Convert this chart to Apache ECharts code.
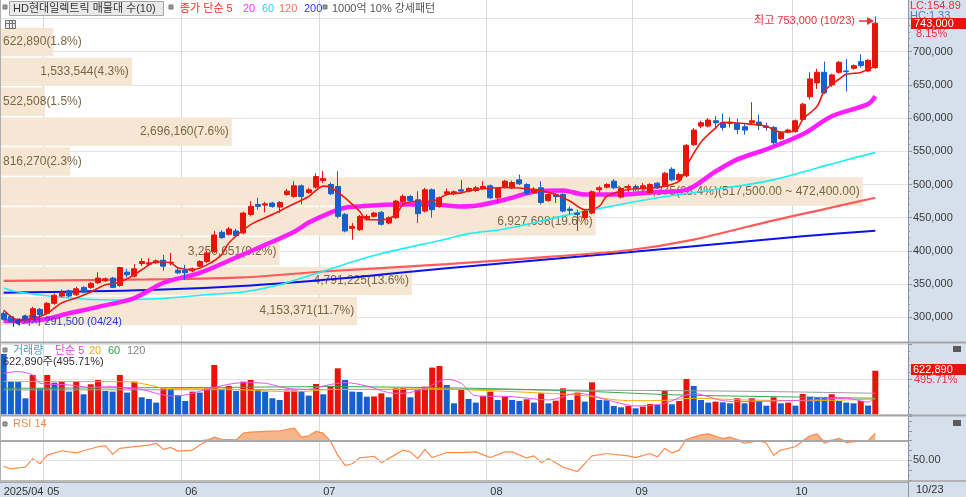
<!DOCTYPE html>
<html>
<head>
<meta charset="utf-8">
<script src="https://cdn.jsdelivr.net/npm/echarts@6/dist/echarts.min.js"></script>
<style>
html,body{margin:0;padding:0;background:#fff;}
#main{width:966px;height:497px;}
</style>
</head>
<body>
<div id="main"></div>
<script>
// 기간: 2025/04/23 ~ 10/23 (일봉)
var year = '2025';
var dates = ['04/23','04/24','04/25','04/28','04/29','04/30',
  '05/02','05/07','05/08','05/09','05/12','05/13','05/14','05/15','05/16','05/19','05/20','05/21','05/22','05/23','05/26','05/27','05/28','05/29','05/30',
  '06/02','06/04','06/05','06/09','06/10','06/11','06/12','06/13','06/16','06/17','06/18','06/19','06/20','06/23','06/24','06/25','06/26','06/27','06/30',
  '07/01','07/02','07/03','07/04','07/07','07/08','07/09','07/10','07/11','07/14','07/15','07/16','07/17','07/18','07/21','07/22','07/23','07/24','07/25','07/28','07/29','07/30','07/31',
  '08/01','08/04','08/05','08/06','08/07','08/08','08/11','08/12','08/13','08/14','08/18','08/19','08/20','08/21','08/22','08/25','08/26','08/27','08/28','08/29',
  '09/01','09/02','09/03','09/04','09/05','09/08','09/09','09/10','09/11','09/12','09/15','09/16','09/17','09/18','09/19','09/22','09/23','09/24','09/25','09/26','09/29','09/30',
  '10/01','10/02','10/10','10/13','10/14','10/15','10/16','10/17','10/20','10/21','10/22','10/23'];
var padCount = 4; // 오른쪽 여백 칸

// 가격 (천원)
var unit = 1000;
var opens = [306,301,293,302,297,312,306,321,332,340,334,345,345,352,355,359,348,368,362,381,380,382,386,382,371,
  371,370,377,384,399,428,425,430,427,455,470,469,472,466,485,482,498,488,496,
  506,500,497,455,434,432,449,452,458,442,450,474,482,477,460,492,467,486,486,492,490,491,494,
  498,480,496,495,507,500,488,495,476,485,485,463,457,450,457,492,496,505,481,495,
  497,494,488,502,498,523,507,513,560,588,588,596,593,592,592,587,593,594,588,586,569,579,
  580,598,632,653,669,650,669,671,675,685,671,676];
var closes = [297,294,296,296,313,304,321,333,337,332,343,338,351,359,358,345,375,364,373,384,382,385,377,383,367,
  367,373,384,397,424,420,433,423,457,467,467,471,467,473,490,498,482,492,512,
  509,486,452,430,437,452,452,457,440,450,475,482,476,456,492,462,480,489,489,490,494,495,497,
  480,494,505,503,501,486,493,473,485,482,460,461,455,460,489,495,500,495,494,497,
  494,498,500,495,517,507,515,559,582,593,597,593,586,594,583,582,596,589,586,563,578,582,
  596,621,659,669,638,665,684,670,679,679,687,743];
var lows = [295,291.5,292,294,296,301,304,319,330,330,332,336,343,350,353,344,346,360,360,377,377,381,370,378,365,
  356,368,376,382,397,418,423,421,425,452,462,458,465,457,483,480,470,486,494,
  502,484,449,428,417,430,446,450,438,440,448,472,474,442,458,450,465,483,484,487,488,489,492,
  478,472,494,493,499,484,486,470,474,472,458,455,430,447,455,488,494,493,479,490,
  490,492,486,493,496,505,505,511,558,585,586,583,581,586,576,575,591,582,581,560,567,577,
  578,596,628,644,636,647,667,640,673,676,669,674];
var highs = [309,303,298,304,316,314,323,336,342,342,346,347,353,368,360,361,376,373,380,389,389,387,394,397,374,
  379,375,386,400,430,431,436,433,459,475,480,474,474,475,493,505,500,495,517,
  520,503,520,457,442,454,455,459,460,452,477,485,484,490,495,494,482,494,491,507,496,498,505,
  500,496,507,506,515,502,496,505,487,487,487,467,462,462,491,498,502,508,496,500,
  500,502,502,504,519,526,518,561,585,596,600,603,607,601,599,592,624,605,593,588,580,584,
  598,623,669,674,685,667,686,689,681,696,689,753];

// 거래량 (주)
var volumes = [862000,467000,460000,229000,562000,371000,562000,452000,467000,324000,467000,286000,429000,490000,333000,324000,562000,310000,467000,243000,219000,167000,371000,360000,276000,
  190000,324000,310000,371000,705000,357000,405000,333000,467000,490000,357000,324000,229000,205000,338000,340000,333000,267000,433000,
  286000,405000,657000,490000,324000,320000,252000,255000,300000,243000,371000,375000,243000,357000,395000,667000,690000,419000,157000,348000,219000,167000,262000,
  324000,205000,252000,205000,190000,214000,167000,300000,157000,195000,371000,205000,310000,181000,457000,205000,200000,119000,100000,119000,
  86000,110000,148000,133000,333000,143000,190000,505000,405000,205000,167000,181000,171000,157000,229000,157000,229000,190000,124000,243000,157000,167000,
  124000,290000,252000,238000,235000,286000,190000,167000,157000,190000,125656,622890];

// 가격 이동평균 (그림에서 읽은 값: [봉 번호, 천원])
var ma5 = [[0,311],[2,296],[4,297.5],[6,306],[8,321.7],[10,329],[12,338],[14,349],[16,353],[18,364],[19,371.6],[21,383.7],[23,382],[24,374.6],[26,371.6],[28,379],[30,394],[31,412],[34,439.6],[37,454.7],[39,465.7],[42,482],[44,497.5],[45,495.5],[47,480],[49,459.7],[50,447],[52,447],[54,454.7],[55,470],[57,474.8],[59,474.8],[61,485],[63,487.4],[65,492.4],[69,495.5],[73,492.4],[76,485],[78,474.8],[80,462],[82,467],[83,482],[86,492.4],[90,495.5],[93,505],[94,527.7],[96,563.5],[98,585],[99,593.7],[103,590.7],[105,587.6],[107,579],[109,580.5],[110,598],[112,618],[113,641],[115,658.7],[116,666],[118,668.8],[119,673.8],[120,678]];
var ma20 = [[0,294.5],[5,296],[9,306],[13,315.7],[18,329],[22,352],[27,367],[32,390],[36,409],[40,429],[42,442.6],[45,457.7],[47,465],[49,467],[54,470],[59,470],[63,467],[65,468],[69,477],[73,489],[77,491],[80,485],[85,485],[89,488],[94,492],[98,519.6],[101,537.8],[105,553],[110,575.6],[114,602.7],[119,621],[120,633]];
var ma60 = [[0,344],[2,338],[9,329],[15,326],[20,327.5],[25,331],[29,335],[33,338],[38,349],[43,366],[47,380],[52,396],[61,418],[64,426],[69,433],[78,455],[84,468],[90,480],[97,491],[106,507],[112,525],[116,537],[120,548]];
var ma120 = [[0,355],[20,357],[33,360],[44,369],[61,380],[75,391],[86,401],[95,417],[106,446],[113,463],[120,480]];
var ma200 = [[0,337],[20,341],[34,348],[48,360],[61,374],[86,398],[110,422],[120,430.5]];

// 거래량 이동평균 ([봉 번호, 천주])
var volMa5 = [[0,586],[2,610],[4,562],[5,443],[9,419],[12,386],[15,395],[17,371],[19,357],[21,300],[23,262],[25,276],[28,357],[31,429],[33,452],[36,443],[39,371],[42,357],[44,405],[47,452],[50,405],[53,310],[55,300],[58,371],[61,500],[63,443],[65,265],[70,252],[75,205],[79,300],[84,181],[87,119],[91,157],[95,300],[97,252],[99,195],[102,181],[106,190],[111,205],[116,229],[119,175],[120,250]];
var volMa20 = [[0,470],[17,465],[20,420],[22,375],[31,360],[36,333],[41,324],[45,357],[50,357],[59,365],[65,345],[70,324],[79,276],[86,195],[90,195],[95,229],[102,205],[111,195],[120,219]];
var volMa60 = [[0,371],[30,385],[45,395],[65,371],[79,333],[93,276],[106,252],[120,229]];
var volMa120 = [[0,348],[40,352],[65,357],[75,348],[93,338],[106,324],[120,300]];

// RSI 14 ([봉 번호, 값])
var rsi14 = [[0,43.8],[1,41.4],[3,43],[4,51.7],[5,46.5],[6,55.2],[8,59.7],[10,57.6],[11,59.7],[13,63.8],[14,64.9],[15,56.2],[16,62.1],[18,63.8],[20,65.5],[21,67.3],[22,61.1],[23,63.1],[24,59.3],[26,60.4],[27,65.5],[29,73.5],[30,71.4],[32,70.7],[33,77.6],[34,78.7],[36,79.4],[38,80],[40,82.8],[41,73.5],[42,74.9],[43,79.4],[44,77.6],[45,69],[46,55.2],[47,44.8],[48,46.5],[49,52.4],[51,54.1],[52,47.6],[53,51.7],[55,60.4],[56,58.6],[57,51.7],[58,61.1],[59,52.8],[61,57.9],[63,57.9],[65,58.6],[67,52.8],[69,58.6],[70,58.6],[72,52.4],[73,54.5],[74,47.6],[75,51.7],[77,43.1],[79,38.6],[81,54.5],[83,56.9],[86,54.5],[87,52.8],[89,56.9],[90,53.5],[91,62.1],[92,57.6],[93,60.4],[94,71.4],[96,75.9],[97,76.9],[99,72.1],[100,73.5],[102,67.3],[104,70],[105,67.3],[106,55.2],[107,60.4],[109,63.8],[110,69.7],[111,74.9],[112,76.9],[113,67.3],[115,72.4],[116,68],[118,69.7],[119,70],[120,77.6]];
var rsiHigh = 70, rsiMid = 50;

// 매물대 (아래 구간부터)
var profileVol = [4153371, 4791225, 3250651, 6927698, 10033375, 816270, 2696160, 522508, 1533544, 622890];
var profilePct = [11.7, 13.6, 9.2, 19.6, 28.4, 2.3, 7.6, 1.5, 4.3, 1.8];
var topBinRange = [517500, 472400];

var FONT = "'Liberation Sans', 'Noto Sans CJK KR', sans-serif";
var RED = '#e8140c', BLUE = '#1560cc';
var PLOT_W = 908;
var PROF_MAX = 10560000;

var cats = dates.slice();
for (var k = 1; k <= padCount; k++) cats.push('_' + k);

function isMonthStart(idx) {
  if (idx >= dates.length) return false;
  return idx === 0 || dates[idx].slice(0, 2) !== dates[idx - 1].slice(0, 2);
}
function fmt(n) { return n.toLocaleString('en-US'); }
function scalePairs(arr, f) { return arr.map(function (p) { return [p[0], p[1] * f]; }); }

var candleData = dates.map(function (d, i) {
  return [opens[i] * unit, closes[i] * unit, lows[i] * unit, highs[i] * unit];
});
var volData = volumes.map(function (v, i) {
  var up = i > 0 && v > volumes[i - 1];
  return { value: v, itemStyle: { color: up ? RED : BLUE } };
});

var topBin = profileVol.indexOf(Math.max.apply(null, profileVol));
var profLabels = profileVol.map(function (v, i) {
  var s = fmt(v) + '(' + profilePct[i].toFixed(1) + '%)';
  if (i === topBin) {
    s += '(' + topBinRange[0].toLocaleString('en-US', { minimumFractionDigits: 2 }) + ' ~ ' +
      topBinRange[1].toLocaleString('en-US', { minimumFractionDigits: 2 }) + ')';
  }
  return s;
});
var profData = profileVol.map(function (v, i) {
  var barPx = v / PROF_MAX * PLOT_W;
  var narrow = barPx < profLabels[i].length * 6.3 + 6;
  return { value: v, label: { position: narrow ? 'insideLeft' : 'insideRight' } };
});

// 최고/최저
var hiVal = Math.max.apply(null, highs), hiIdx = highs.indexOf(hiVal);
var loVal = Math.min.apply(null, lows), loIdx = lows.indexOf(loVal);
var lastIdx = closes.length - 1;
var lastClose = closes[lastIdx] * unit;
var chg = (closes[lastIdx] / closes[lastIdx - 1] - 1) * 100;
var lastVol = volumes[lastIdx];
var volRatio = lastVol / volumes[lastIdx - 1] * 100;

function T(x, y, text, color, size, align, z) {
  return { type: 'text', x: x, y: y, z: z || 110, silent: true,
    style: { text: text, fill: color, font: (size || 11) + 'px ' + FONT, align: align || 'left', verticalAlign: 'middle' } };
}
function R(x, y, w, h, fill, stroke, z) {
  return { type: 'rect', shape: { x: x, y: y, width: w, height: h }, z: z == null ? 100 : z, silent: true,
    style: { fill: fill, stroke: stroke || null, lineWidth: 1 } };
}
function L(x1, y1, x2, y2, color, w, z) {
  return { type: 'line', shape: { x1: x1, y1: y1, x2: x2, y2: y2 }, z: z == null ? 90 : z, silent: true,
    style: { stroke: color, lineWidth: w || 1 } };
}

var AX = '#8796aa';
function rightAxis(extra) {
  var base = {
    type: 'value', position: 'right',
    axisLine: { show: true, lineStyle: { color: AX } },
    axisTick: { show: true, length: 4, lineStyle: { color: AX } },
    minorTick: { show: true, splitNumber: 5, length: 2, lineStyle: { color: AX } },
    axisLabel: { color: '#3a3a3a', fontSize: 11, fontFamily: FONT, margin: 5 },
    splitLine: { show: true, lineStyle: { color: '#e3e3e3' } }
  };
  for (var key in extra) base[key] = extra[key];
  return base;
}
function maLine(data, color, width, xi, yi, z) {
  return { type: 'line', xAxisIndex: xi, yAxisIndex: yi, data: data, showSymbol: false, smooth: 0.3,
    clip: false, z: z || 3, silent: true, lineStyle: { color: color, width: width }, itemStyle: { color: color } };
}

var myChart = echarts.init(document.getElementById('main'));
var option = {
  animation: false,
  backgroundColor: '#ffffff',
  grid: [
    { left: 0, top: 0, width: PLOT_W, height: 482, outerBoundsMode: 'none', containLabel: false },
    { left: 0, top: 18.5, width: PLOT_W, height: 298.8, outerBoundsMode: 'none', containLabel: false },
    { left: 0, top: 27, width: PLOT_W, height: 299, outerBoundsMode: 'none', containLabel: false },
    { left: 0, top: 344.3, width: PLOT_W, height: 70, outerBoundsMode: 'none', containLabel: false },
    { left: 0, top: 416, width: PLOT_W, height: 64, outerBoundsMode: 'none', containLabel: false }
  ],
  xAxis: [
    { gridIndex: 0, type: 'category', data: cats, boundaryGap: true,
      axisLine: { show: true, lineStyle: { color: '#a5a5a5' } },
      axisTick: { show: false },
      axisLabel: { show: true, interval: function (idx) { return isMonthStart(idx); },
        formatter: function (val, idx) { return idx === 0 ? year + '/' + val.slice(0, 2) : val.slice(0, 2); },
        align: 'left', margin: 4, color: '#333', fontSize: 11, fontFamily: FONT, hideOverlap: false },
      splitLine: { show: true, interval: function (idx) { return isMonthStart(idx); }, lineStyle: { color: '#d9d9d9' } } },
    { gridIndex: 1, type: 'category', data: cats, boundaryGap: true, show: false },
    { gridIndex: 2, type: 'value', min: 0, max: PROF_MAX, show: false },
    { gridIndex: 3, type: 'category', data: cats, boundaryGap: true, show: false },
    { gridIndex: 4, type: 'category', data: cats, boundaryGap: true, show: false }
  ],
  yAxis: [
    { gridIndex: 0, type: 'value', show: false },
    rightAxis({ gridIndex: 1, min: 300000, max: 750000, interval: 50000,
      axisLabel: { color: '#3a3a3a', fontSize: 11, fontFamily: FONT, margin: 5,
        formatter: function (v) { return v >= 750000 ? '' : fmt(v); } } }),
    { gridIndex: 2, type: 'category', data: profileVol.map(function (v, i) { return 'b' + i; }), show: false },
    rightAxis({ gridIndex: 3, min: 0, max: 1000000, interval: 500000, axisLabel: { show: false } }),
    rightAxis({ gridIndex: 4, min: 30, max: 95, interval: 10,
      minorTick: { show: true, splitNumber: 2, length: 2, lineStyle: { color: AX } },
      splitLine: { show: false },
      axisLabel: { color: '#3a3a3a', fontSize: 11, fontFamily: FONT, margin: 5,
        formatter: function (v) { return v === rsiMid ? rsiMid.toFixed(2) : ''; } } })
  ],
  series: [
    { type: 'bar', xAxisIndex: 2, yAxisIndex: 2, data: profData, barCategoryGap: '5%', z: 1, silent: true,
      itemStyle: { color: '#f6e7d5' },
      label: { show: true, distance: 3, color: '#7c6543', fontSize: 12, fontFamily: FONT,
        formatter: function (p) { return profLabels[p.dataIndex]; } } },
    maLine(scalePairs(ma200, unit), '#0a14e6', 2, 1, 1),
    maLine(scalePairs(ma120, unit), '#ff5b5b', 2.2, 1, 1),
    maLine(scalePairs(ma60, unit), '#19f0f5', 1.6, 1, 1),
    maLine(scalePairs(ma20, unit), '#ff1eff', 4.5, 1, 1),
    maLine(scalePairs(ma5, unit), '#ee1a10', 1.6, 1, 1, 6),
    { type: 'candlestick', xAxisIndex: 1, yAxisIndex: 1, data: candleData, barWidth: 5.5, clip: false, z: 5, silent: true,
      itemStyle: { color: RED, color0: BLUE, borderColor: RED, borderColor0: BLUE, borderWidth: 1 } },
    { type: 'bar', xAxisIndex: 3, yAxisIndex: 3, data: volData, barWidth: 6, z: 3, silent: true },
    maLine(scalePairs(volMa120, 1000), '#9a9a9a', 1, 3, 3, 4),
    maLine(scalePairs(volMa60, 1000), '#35a84f', 1, 3, 3, 4),
    maLine(scalePairs(volMa20, 1000), '#f2b000', 1, 3, 3, 4),
    maLine(scalePairs(volMa5, 1000), '#f050e8', 1, 3, 3, 4),
    { type: 'line', xAxisIndex: 4, yAxisIndex: 4, showSymbol: false, silent: true, z: 2,
      data: rsi14.map(function (p) { return [p[0], Math.max(p[1], rsiHigh)]; }),
      lineStyle: { width: 0, opacity: 0 },
      areaStyle: { origin: rsiHigh, color: '#f5b68a', opacity: 1 } },
    { type: 'line', xAxisIndex: 4, yAxisIndex: 4, data: rsi14, showSymbol: false, silent: true, z: 3,
      lineStyle: { color: '#ff8a4c', width: 1.2 }, itemStyle: { color: '#ff8a4c' },
      markLine: { silent: true, symbol: ['none', 'none'], label: { show: false },
        data: [
          { yAxis: rsiHigh, lineStyle: { color: '#a9a9a9', width: 2, type: 'solid' } },
          { yAxis: rsiMid, lineStyle: { color: '#dedede', width: 1, type: 'solid' } }
        ] } }
  ],
  graphic: { elements: [
    // 배경
    R(PLOT_W, 0, 966 - PLOT_W, 497, '#d6e0ec', null, -10),
    R(0, 482, PLOT_W, 15, '#d6e0ec', null, -10),
    // 구분선
    L(PLOT_W + 0.5, 0, PLOT_W + 0.5, 497, AX, 1),
    L(0, 342.5, 966, 342.5, '#a5a5a5', 2),
    L(0, 415.5, 966, 415.5, '#a5a5a5', 2),
    L(0, 481, 966, 481, '#a5a5a5', 1.5),
    L(0.5, 0, 0.5, 482, '#b0b0b0', 1),
    // 상단 범례
    R(3, 5, 4, 4, '#9a9a9a', '#777'),
    R(9.5, 1.5, 154, 14, '#e9e9e9', '#a6a6a6'),
    T(13, 9, 'HD현대일렉트릭 매물대 수(10)', '#333'),
    R(169, 5, 4, 4, '#9a9a9a', '#777'),
    T(180, 9, '종가 단순 5', '#ff2b2b'),
    T(243, 9, '20', '#ff33ff'),
    T(262, 9, '60', '#2ed3ea'),
    T(279, 9, '120', '#ff6b6b'),
    T(304, 9, '200', '#3434ff'),
    R(323, 5, 4, 4, '#9a9a9a', '#777'),
    T(332, 9, '1000억 10% 강세패턴', '#555'),
    R(5.5, 20.5, 10, 8, '#eeeeee', '#6f6f6f'),
    L(5.5, 23.5, 15.5, 23.5, '#6f6f6f', 1, 105),
    L(9.5, 20.5, 9.5, 28.5, '#6f6f6f', 1, 105),
    L(12.5, 20.5, 12.5, 28.5, '#6f6f6f', 1, 105),
    // 최고/최저 표시
    T(855, 21, '최고 ' + fmt(hiVal * unit) + ' (' + dates[hiIdx] + ')', '#e8303a', 11, 'right'),
    L(859, 21, 868, 21, '#e8303a', 1.5),
    { type: 'polygon', z: 100, silent: true, shape: { points: [[874, 21], [867, 17], [867, 25]] }, style: { fill: '#e8303a' } },
    { type: 'polygon', z: 100, silent: true, shape: { points: [[14, 322], [20, 318], [20, 326]] }, style: { fill: '#1f3fd0' } },
    L(13.5, 317, 13.5, 327, '#1f3fd0', 1),
    T(21, 322, '최저 ' + fmt(loVal * unit) + ' (' + dates[loIdx] + ')', '#1f3fd0'),
    // 오른쪽 축 정보
    T(910, 6, 'LC:154.89', '#e8303a', 11, 'left', 95),
    T(910, 16, 'HC:1.33', '#4a78d0', 11, 'left', 95),
    R(911, 18, 55, 11, RED, null, 101),
    T(914, 23.5, fmt(lastClose), '#ffffff', 11, 'left', 120),
    T(916, 34, chg.toFixed(2) + '%', '#e8303a'),
    // 거래량 패널
    R(3, 348, 4, 4, '#9a9a9a', '#777'),
    T(13, 351, '거래량', '#3aa7b5'),
    T(55, 351, '단순 5', '#f040f0'),
    T(89, 351, '20', '#f2a800'),
    T(108, 351, '60', '#2ea24a'),
    T(127, 351, '120', '#888888'),
    T(3, 362, fmt(lastVol) + '주(' + volRatio.toFixed(2) + '%)', '#333'),
    R(911, 364, 55, 11, RED, null, 101),
    T(913, 369.5, fmt(lastVol), '#ffffff', 11, 'left', 120),
    T(914, 380, volRatio.toFixed(2) + '%', '#e8303a'),
    R(953, 346, 8, 6, '#5a5a5a', null, 100),
    // RSI 패널
    R(3, 422, 4, 4, '#9a9a9a', '#777'),
    T(13, 424, 'RSI 14', '#f08a4b'),
    R(953, 420, 8, 6, '#5a5a5a', null, 100),
    // 날짜
    T(916, 490, dates[lastIdx], '#333')
  ] }
};
myChart.setOption(option);
</script>
</body>
</html>
